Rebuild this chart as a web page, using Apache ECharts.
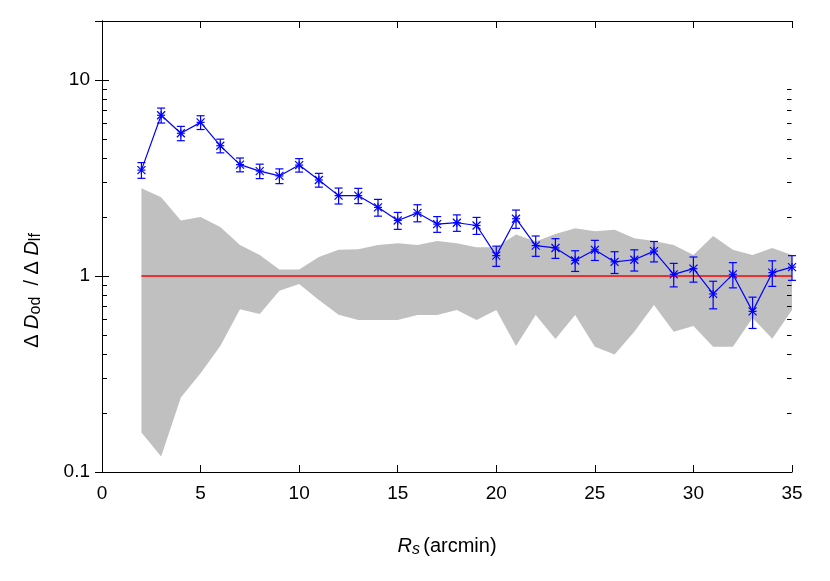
<!DOCTYPE html>
<html>
<head>
<meta charset="utf-8">
<script src="https://cdn.jsdelivr.net/npm/echarts@6/dist/echarts.min.js"></script>
<style>
  html, body { margin: 0; padding: 0; background: #fff; }
  #main { width: 830px; height: 581px; }
</style>
</head>
<body>
<div id="main"></div>
<script>
// R_s (arcmin)
var rs = [2, 3, 4, 5, 6, 7, 8, 9, 10, 11, 12, 13, 14, 15, 16, 17, 18, 19, 20,
          21, 22, 23, 24, 25, 26, 27, 28, 29, 30, 31, 32, 33, 34, 35];
// measured ratio and its error
var ratio = [3.47, 6.61, 5.35, 6.08, 4.62, 3.70, 3.43, 3.24, 3.68, 3.09, 2.57, 2.57,
             2.24, 1.92, 2.10, 1.84, 1.87, 1.81, 1.27, 1.96, 1.43, 1.39, 1.20, 1.36,
             1.18, 1.21, 1.34, 1.02, 1.09, 0.81, 1.02, 0.66, 1.04, 1.11];
var ratioErr = [0.32, 0.58, 0.45, 0.49, 0.37, 0.30, 0.29, 0.28, 0.29, 0.25, 0.24, 0.23,
                0.22, 0.19, 0.21, 0.17, 0.18, 0.18, 0.15, 0.21, 0.17, 0.16, 0.145, 0.16,
                0.15, 0.15, 0.16, 0.14, 0.16, 0.13, 0.15, 0.12, 0.155, 0.16];
// grey band (random fields)
var bandHigh = [2.80, 2.52, 1.92, 2.00, 1.78, 1.44, 1.28, 1.08, 1.08, 1.25, 1.36, 1.37,
                1.44, 1.47, 1.44, 1.51, 1.47, 1.40, 1.40, 1.63, 1.50, 1.64, 1.75, 1.69,
                1.72, 1.56, 1.51, 1.44, 1.28, 1.60, 1.36, 1.28, 1.39, 1.28];
var bandLow = [0.159, 0.120, 0.240, 0.319, 0.44, 0.676, 0.64, 0.84, 0.91, 0.755, 0.635, 0.596,
               0.596, 0.596, 0.633, 0.633, 0.671, 0.596, 0.671, 0.44, 0.633, 0.477, 0.633, 0.436,
               0.398, 0.52, 0.711, 0.52, 0.556, 0.436, 0.436, 0.61, 0.478, 0.671];
// reference line at 1
var unityLine = [[2, 1], [35, 1]];
// axis ticks
var yTickValues = [0.1, 1, 10];
var yTickLabels = ['0.1', '1', '10'];
var yMinorTicks = [0.2, 0.3, 0.4, 0.5, 0.6, 0.7, 0.8, 0.9, 2, 3, 4, 5, 6, 7, 8, 9];

var FONT = '"Liberation Sans", Arial, sans-serif';
var BLUE = '#0000ff';
var X_MIN = 0, X_MAX = 35;

var dom = document.getElementById('main');
var myChart = echarts.init(dom, null, { renderer: 'canvas' });

function yLabel(v) {
    for (var i = 0; i < yTickValues.length; i++) {
        if (Math.abs(Math.log10(v) - Math.log10(yTickValues[i])) < 1e-6) return yTickLabels[i];
    }
    return '';
}

var axisLineStyle = { color: '#000', width: 1 };
var nameRich = {
    it: { fontFamily: FONT, fontSize: 20, fontStyle: 'italic', color: '#000', lineHeight: 24, verticalAlign: 'middle' },
    sub: { fontFamily: FONT, fontSize: 16, color: '#000', lineHeight: 16, verticalAlign: 'bottom' },
    subit: { fontFamily: FONT, fontSize: 16, fontStyle: 'italic', color: '#000', lineHeight: 16, verticalAlign: 'bottom' },
    rm: { fontFamily: FONT, fontSize: 20, color: '#000', lineHeight: 24, verticalAlign: 'middle' }
};

option = {
    animation: false,
    grid: { left: 102, right: 38, top: 21, bottom: 109 },
    xAxis: [{
        type: 'value', min: X_MIN, max: X_MAX, interval: 5,
        name: '{it|R}{subit|s} {rm|(arcmin)}',
        nameLocation: 'middle', nameGap: 62,
        nameTextStyle: { rich: nameRich },
        axisLine: { lineStyle: axisLineStyle },
        axisTick: { inside: true, length: 7, lineStyle: { color: '#000' } },
        axisLabel: { fontFamily: FONT, fontSize: 19, color: '#000', margin: 12 },
        splitLine: { show: false }
    }, {
        type: 'value', position: 'top', min: X_MIN, max: X_MAX, interval: 5,
        axisLine: { lineStyle: axisLineStyle },
        axisTick: { inside: true, length: 7, lineStyle: { color: '#000' } },
        axisLabel: { show: false },
        splitLine: { show: false }
    }],
    yAxis: [{
        type: 'log', logBase: 10, min: 0.1, max: 20,
        axisLine: { lineStyle: axisLineStyle },
        axisTick: { inside: true, length: 7, lineStyle: { color: '#000' } },
        axisLabel: { fontFamily: FONT, fontSize: 19, color: '#000', margin: 12, formatter: yLabel },
        splitLine: { show: false }
    }, {
        type: 'log', logBase: 10, min: 0.1, max: 20, position: 'right',
        axisLine: { lineStyle: axisLineStyle },
        axisTick: { inside: true, length: 7, lineStyle: { color: '#000' } },
        axisLabel: { show: false },
        splitLine: { show: false }
    }],
    graphic: [{
        // y-axis title
        type: 'text', left: 22, top: 'middle', rotation: Math.PI / 2, silent: true,
        style: {
            text: '{rm|Δ }{it|D}{sub|od}{rm|  / Δ }{it|D}{sub|lf}',
            rich: nameRich
        }
    }],
    series: [
        {
            // grey band
            type: 'custom', z: 1, silent: true, clip: true,
            data: rs.map(function (x, i) { return [x, bandLow[i], bandHigh[i]]; }),
            encode: { x: 0, y: [1, 2] },
            renderItem: function (params, api) {
                if (params.dataIndex !== 0) return null;
                var pts = [];
                for (var i = 0; i < rs.length; i++) pts.push(api.coord([rs[i], bandHigh[i]]));
                for (var j = rs.length - 1; j >= 0; j--) pts.push(api.coord([rs[j], bandLow[j]]));
                return { type: 'polygon', shape: { points: pts }, style: { fill: '#c0c0c0', stroke: null } };
            }
        },
        {
            // minor log ticks on both frame sides
            type: 'custom', z: 6, silent: true,
            data: yMinorTicks.map(function (v) { return [X_MAX, v]; }),
            renderItem: function (params, api) {
                var p = api.coord([api.value(0), api.value(1)]);
                var cs = params.coordSys;
                var y = Math.round(p[1]) + 0.5;
                var st = { stroke: '#000', lineWidth: 1 };
                return {
                    type: 'group', children: [
                        { type: 'line', shape: { x1: cs.x + 0.5, y1: y, x2: cs.x + 5, y2: y }, style: st },
                        { type: 'line', shape: { x1: cs.x + cs.width - 0.5, y1: y, x2: cs.x + cs.width - 5, y2: y }, style: st }
                    ]
                };
            }
        },
        {
            type: 'line', z: 2, data: unityLine, symbol: 'none', silent: true,
            lineStyle: { color: '#ff0000', width: 1.3 }
        },
        {
            type: 'line', z: 3, symbol: 'none', silent: true,
            data: rs.map(function (x, i) { return [x, ratio[i]]; }),
            lineStyle: { color: BLUE, width: 1.2 }
        },
        {
            // error bars + asterisk points
            type: 'custom', z: 4, silent: true,
            data: rs.map(function (x, i) { return [x, ratio[i], ratioErr[i]]; }),
            renderItem: function (params, api) {
                var x = api.value(0), y = api.value(1), e = api.value(2);
                var c = api.coord([x, y]);
                var hi = api.coord([x, y + e]);
                var lo = api.coord([x, y - e]);
                var w = 4, r = 4;
                var st = { stroke: BLUE, lineWidth: 1.2 };
                return {
                    type: 'group', children: [
                        { type: 'line', shape: { x1: c[0], y1: hi[1], x2: c[0], y2: lo[1] }, style: st },
                        { type: 'line', shape: { x1: c[0] - w, y1: hi[1], x2: c[0] + w, y2: hi[1] }, style: st },
                        { type: 'line', shape: { x1: c[0] - w, y1: lo[1], x2: c[0] + w, y2: lo[1] }, style: st },
                        { type: 'line', shape: { x1: c[0] - r, y1: c[1], x2: c[0] + r, y2: c[1] }, style: st },
                        { type: 'line', shape: { x1: c[0], y1: c[1] - r, x2: c[0], y2: c[1] + r }, style: st },
                        { type: 'line', shape: { x1: c[0] - r, y1: c[1] - r, x2: c[0] + r, y2: c[1] + r }, style: st },
                        { type: 'line', shape: { x1: c[0] - r, y1: c[1] + r, x2: c[0] + r, y2: c[1] - r }, style: st }
                    ]
                };
            }
        }
    ]
};

if (option && typeof option === "object") {
    myChart.setOption(option, true);
}
</script>
</body>
</html>
